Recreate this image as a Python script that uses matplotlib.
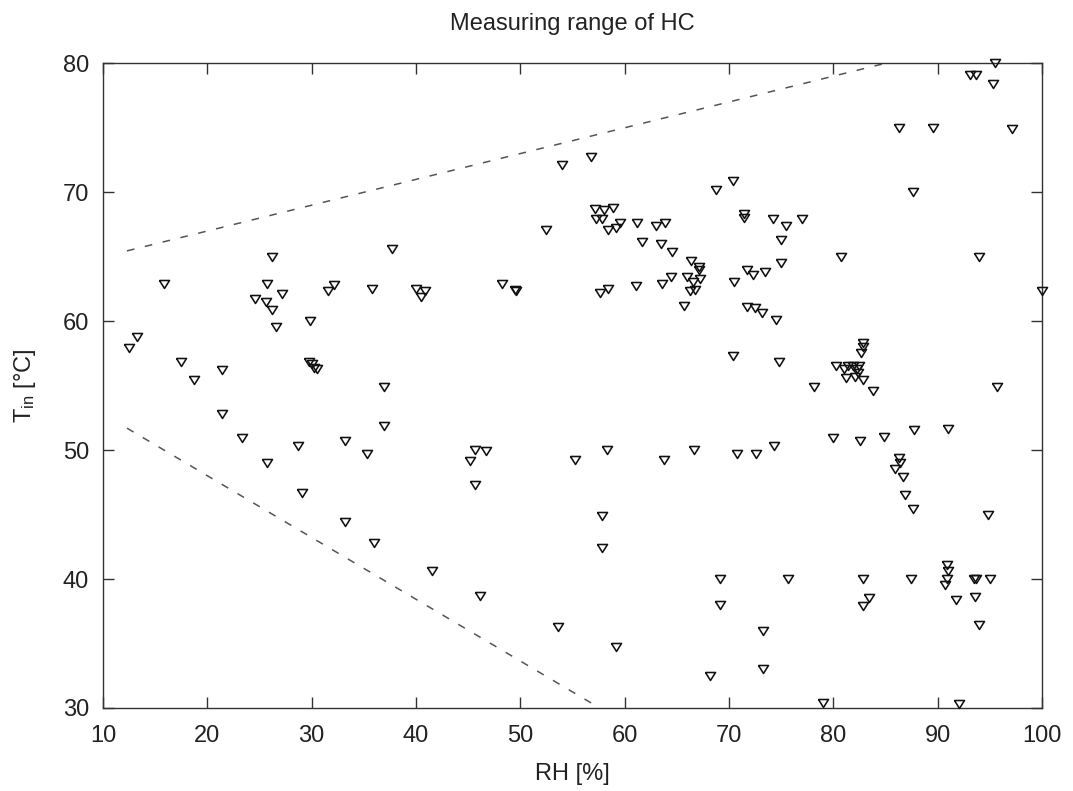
import matplotlib
matplotlib.use('Agg')
import matplotlib.pyplot as plt

plt.rcParams['font.family'] = ['Liberation Sans', 'DejaVu Sans']
plt.rcParams['mathtext.fontset'] = 'custom'
plt.rcParams['mathtext.rm'] = 'Liberation Sans'
plt.rcParams['mathtext.it'] = 'Liberation Sans:italic'

# measured points, RH [%] and T_in [degC]
rh = [12.5, 13.3, 15.8, 17.5, 18.7, 21.4, 21.4, 23.3, 24.6, 25.75,
      25.6, 26.2, 26.2, 26.6, 27.2, 25.75, 28.7, 29.1, 29.8, 29.7,
      30.0, 30.2, 30.5, 31.6, 32.1, 33.2, 33.2, 35.3, 35.8, 36.0,
      36.9, 36.9, 37.7, 40.0, 40.45, 40.9, 41.5, 45.2, 45.65, 45.65,
      46.1, 46.7, 48.2, 49.5, 49.6, 52.5, 53.6, 54.0, 55.2, 56.8,
      57.2, 58.0, 58.85, 57.3, 57.8, 58.4, 59.2, 59.6, 57.6, 58.4,
      58.3, 57.8, 57.8, 59.2, 61.2, 61.1, 61.7, 63.0, 63.9, 63.5,
      64.5, 63.6, 64.4, 63.8, 65.7, 66.0, 66.4, 66.6, 67.2, 67.1,
      67.1, 66.3, 66.75, 66.7, 68.2, 68.75, 69.1, 69.1, 70.4, 70.5,
      70.4, 70.8, 71.4, 71.4, 71.75, 72.3, 73.5, 71.7, 72.5, 73.2,
      74.5, 72.6, 74.3, 73.3, 73.3, 74.2, 75.5, 77.0, 74.95, 74.95,
      74.8, 75.7, 78.2, 79.0, 80.0, 80.7, 80.3, 81.0, 81.4, 81.2,
      81.9, 82.1, 82.3, 82.5, 82.4, 82.9, 82.9, 82.9, 82.7, 83.8,
      82.6, 84.9, 82.9, 83.4, 82.9, 86.3, 89.6, 87.6, 87.7, 86.3,
      86.4, 85.9, 86.7, 86.9, 87.6, 87.5, 91.0, 90.9, 91.0, 90.9,
      90.7, 91.8, 92.1, 93.1, 93.7, 95.3, 95.5, 97.1, 94.0, 93.5,
      93.7, 95.0, 93.6, 94.0, 94.8, 95.7, 100.0]
t_in = [57.9, 58.8, 62.9, 56.85, 55.45, 56.2, 52.8, 50.9, 61.7, 62.9,
        61.5, 65.0, 60.9, 59.55, 62.1, 49.0, 50.3, 46.7, 60.0, 56.85,
        56.7, 56.4, 56.25, 62.3, 62.8, 50.7, 44.4, 49.7, 62.5, 42.8,
        54.9, 51.9, 65.6, 62.5, 61.9, 62.3, 40.6, 49.15, 50.0, 47.3,
        38.7, 49.9, 62.9, 62.4, 62.3, 67.1, 36.3, 72.1, 49.2, 72.7,
        68.7, 68.6, 68.8, 67.9, 67.9, 67.1, 67.2, 67.6, 62.2, 62.5,
        50.0, 44.9, 42.4, 34.7, 67.6, 62.7, 66.1, 67.4, 67.6, 66.0,
        65.4, 62.9, 63.4, 49.2, 61.2, 63.4, 64.7, 63.0, 63.3, 64.2,
        64.0, 62.35, 62.45, 50.0, 32.5, 70.2, 40.0, 38.0, 70.9, 63.0,
        57.3, 49.7, 68.3, 68.0, 64.0, 63.6, 63.8, 61.1, 61.0, 60.6,
        60.1, 49.7, 50.3, 36.0, 33.0, 67.9, 67.4, 67.9, 66.3, 64.5,
        56.8, 40.0, 54.9, 30.4, 50.9, 65.0, 56.5, 56.25, 56.5, 55.6,
        56.5, 55.7, 56.25, 56.5, 56.0, 55.4, 58.3, 58.0, 57.5, 54.6,
        50.7, 51.0, 40.0, 38.5, 37.9, 75.0, 75.0, 70.0, 51.55, 49.4,
        49.0, 48.5, 47.9, 46.5, 45.4, 40.0, 51.6, 41.1, 40.6, 40.0,
        39.5, 38.4, 30.3, 79.1, 79.1, 78.4, 80.0, 74.9, 65.0, 40.0,
        40.0, 40.0, 38.6, 36.4, 45.0, 54.9, 62.35]

# range limits (dashed)
upper_rh = [12.3, 85.0]
upper_t = [65.45, 80.0]
lower_rh = [12.3, 57.6]
lower_t = [51.7, 30.0]

fig = plt.figure(figsize=(10.73, 7.91), dpi=100)
ax = fig.add_axes([0.096, 0.105, 0.875, 0.815])

# gnuplot-like down triangle, a bit wider than tall
tri = [(-1, 0.8), (1, 0.8), (0, -0.8), (-1, 0.8)]
ax.plot(rh, t_in, linestyle='none', marker=tri, markersize=7.2,
        markerfacecolor='none', markeredgecolor='#111111',
        markeredgewidth=1.15, clip_on=False, zorder=3)

ax.plot(upper_rh, upper_t, color='#555555', linewidth=1.1, dashes=(5, 7))
ax.plot(lower_rh, lower_t, color='#555555', linewidth=1.1, dashes=(5, 7))

ax.set_xlim(10, 100)
ax.set_ylim(30, 80)
ax.set_xticks(range(10, 101, 10))
ax.set_yticks(range(30, 81, 10))

for s in ax.spines.values():
    s.set_color('#333333')
    s.set_linewidth(1.0)
ax.tick_params(direction='in', length=8, width=1.0, color='#333333',
               top=True, right=True, labelsize=17, labelcolor='#222222')
ax.tick_params(axis='x', pad=12)
ax.tick_params(axis='y', pad=10)

ax.set_title('Measuring range of HC', fontsize=17, color='#222222', pad=24)
ax.set_xlabel('RH [%]', fontsize=17, color='#222222', labelpad=12)
ax.set_ylabel(r'T$_{\mathrm{in}}$ [°C]', fontsize=17, color='#222222', labelpad=18)

fig.savefig('out.png', dpi=100)
